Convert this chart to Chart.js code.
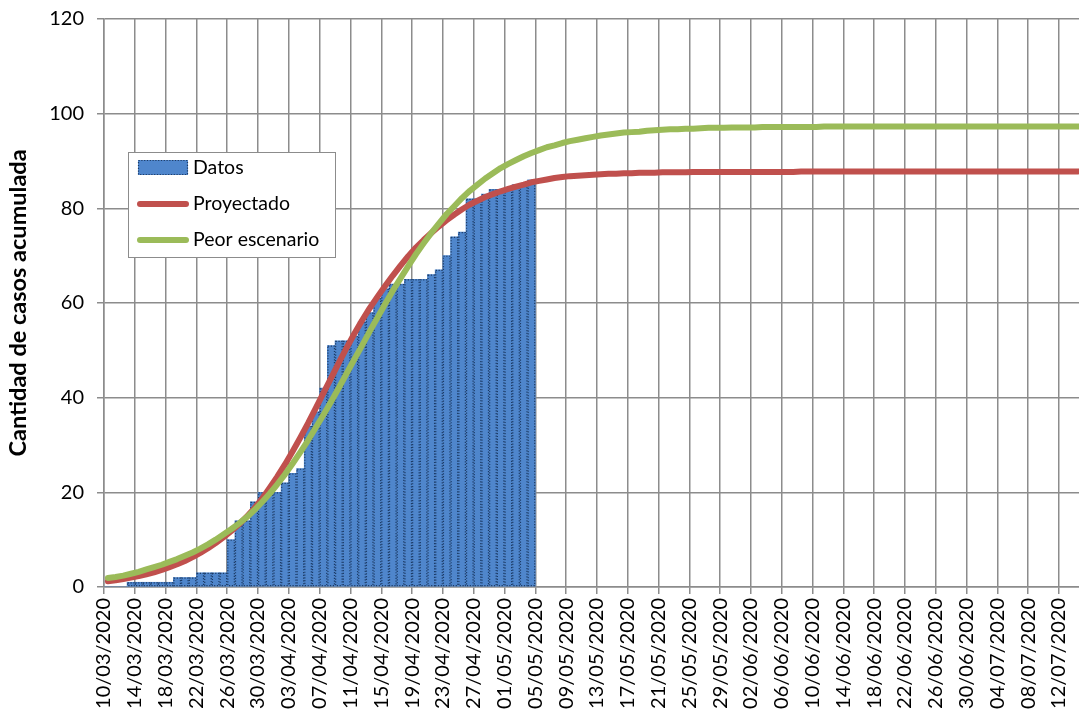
<!DOCTYPE html>
<html>
<head>
<meta charset="utf-8">
<title>Casos acumulados</title>
<script src="https://cdn.jsdelivr.net/npm/chart.js@4.4.1/dist/chart.umd.min.js"></script>
<style>
  html, body { margin: 0; padding: 0; background: #ffffff; overflow: hidden; }
  #wrap { width: 1079px; height: 711px; position: relative; }
  canvas { display: block; }
</style>
</head>
<body>
<div id="wrap"><canvas id="chart" width="1079" height="711"></canvas></div>
<script>
// Axis labels, one every 4 days starting on 10/03/2020
const tickLabels = [
  '10/03/2020', '14/03/2020', '18/03/2020', '22/03/2020', '26/03/2020', '30/03/2020',
  '03/04/2020', '07/04/2020', '11/04/2020', '15/04/2020', '19/04/2020', '23/04/2020',
  '27/04/2020', '01/05/2020', '05/05/2020', '09/05/2020', '13/05/2020', '17/05/2020',
  '21/05/2020', '25/05/2020', '29/05/2020', '02/06/2020', '06/06/2020', '10/06/2020',
  '14/06/2020', '18/06/2020', '22/06/2020', '26/06/2020', '30/06/2020', '04/07/2020',
  '08/07/2020', '12/07/2020'
];
const daysPerTick = 4;
const yTickValues = [0, 20, 40, 60, 80, 100, 120];

// Series labels
const seriesNames = ['Datos', 'Proyectado', 'Peor escenario'];

// Observed cumulative cases, one value per day from 10/03/2020 to 04/05/2020
const casos = [
  0, 0, 0, 1, 1, 1, 1, 1, 1, 2,
  2, 2, 3, 3, 3, 3, 10, 14, 14, 18,
  20, 20, 20, 22, 24, 25, 34, 37, 42, 51,
  52, 52, 53, 56, 58, 61, 63, 64, 64, 65,
  65, 65, 66, 67, 70, 74, 75, 82, 82, 83,
  84, 84, 84, 85, 85, 86
];

// Projected curve, one value per day from 10/03/2020
const proyectado = [
  1.2, 1.4, 1.7, 2.0, 2.3, 2.7, 3.1, 3.6, 4.2, 4.8,
  5.5, 6.3, 7.2, 8.2, 9.3, 10.5, 11.8, 13.2, 14.8, 16.6,
  18.6, 20.9, 23.3, 25.9, 28.7, 31.6, 34.6, 37.8, 41.0, 44.2,
  47.4, 50.5, 53.5, 56.3, 58.9, 61.3, 63.6, 65.8, 67.9, 69.9,
  71.7, 73.3, 74.8, 76.2, 77.5, 78.7, 79.8, 80.8, 81.6, 82.4,
  83.0, 83.6, 84.1, 84.6, 85.0, 85.5, 85.8, 86.1, 86.4, 86.6,
  86.8, 86.9, 87.0, 87.1, 87.2, 87.3, 87.3, 87.4, 87.4, 87.5,
  87.5, 87.5, 87.6, 87.6, 87.6, 87.6, 87.7, 87.7, 87.7, 87.7,
  87.7, 87.7, 87.7, 87.7, 87.7, 87.7, 87.7, 87.7, 87.7, 87.7,
  87.8, 87.8, 87.8, 87.8, 87.8, 87.8, 87.8, 87.8, 87.8, 87.8,
  87.8, 87.8, 87.8, 87.8, 87.8, 87.8, 87.8, 87.8, 87.8, 87.8,
  87.8, 87.8, 87.8, 87.8, 87.8, 87.8, 87.8, 87.8, 87.8, 87.8,
  87.8, 87.8, 87.8, 87.8, 87.8, 87.8, 87.8
];

// Worst-case curve, one value per day from 10/03/2020
const peorEscenario = [
  1.9, 2.1, 2.4, 2.8, 3.2, 3.7, 4.2, 4.7, 5.3, 5.9,
  6.6, 7.3, 8.1, 9.0, 10.0, 11.1, 12.2, 13.4, 14.7, 16.2,
  17.9, 19.7, 21.7, 23.8, 26.1, 28.5, 31.0, 33.7, 36.4, 39.2,
  42.1, 45.1, 48.1, 51.0, 54.0, 56.9, 59.8, 62.6, 65.2, 67.8,
  70.3, 72.6, 74.8, 76.8, 78.8, 80.5, 82.2, 83.7, 85.0, 86.3,
  87.4, 88.5, 89.4, 90.2, 91.0, 91.7, 92.3, 92.9, 93.3, 93.8,
  94.2, 94.5, 94.8, 95.1, 95.4, 95.6, 95.8, 96.0, 96.1, 96.2,
  96.4, 96.5, 96.6, 96.7, 96.7, 96.8, 96.8, 96.9, 97.0, 97.0,
  97.0, 97.1, 97.1, 97.1, 97.1, 97.2, 97.2, 97.2, 97.2, 97.2,
  97.2, 97.2, 97.2, 97.3, 97.3, 97.3, 97.3, 97.3, 97.3, 97.3,
  97.3, 97.3, 97.3, 97.3, 97.3, 97.3, 97.3, 97.3, 97.3, 97.3,
  97.3, 97.3, 97.3, 97.3, 97.3, 97.3, 97.3, 97.3, 97.3, 97.3,
  97.3, 97.3, 97.3, 97.3, 97.3, 97.3, 97.3
];

// Each day occupies one unit on the x scale; values sit in the middle of their day
const toDaily = (arr) => arr.map((v, i) => ({ x: i + 0.5, y: v }));

const FONT = 'Lato, "Open Sans", "Liberation Sans", sans-serif';
const GRID = '#8c8c8c';
const BAR_FILL = '#4f86cc';
const BAR_EDGE = '#1c3b66';
const RED = '#c0504d';
const GREEN = '#9bbb59';

// Dotted outline around each bar, drawn right after the bar dataset
const dottedBars = {
  id: 'dottedBars',
  afterDatasetDraw(chart, args) {
    if (args.meta.type !== 'bar') return;
    const { ctx, chartArea } = chart;
    ctx.save();
    ctx.beginPath();
    ctx.rect(chartArea.left, chartArea.top, chartArea.right - chartArea.left, chartArea.bottom - chartArea.top);
    ctx.clip();
    ctx.setLineDash([1.2, 1.6]);
    ctx.lineWidth = 1.2;
    ctx.strokeStyle = BAR_EDGE;
    args.meta.data.forEach((el) => {
      const p = el.getProps(['x', 'y', 'base', 'width'], true);
      const h = p.base - p.y;
      if (h < 0.5) return;
      ctx.strokeRect(p.x - p.width / 2 + 0.6, p.y + 0.6, p.width - 1.2, h - 1.2);
    });
    ctx.restore();
  }
};

// Boxed legend inside the plot area
const boxLegend = {
  id: 'boxLegend',
  afterDraw(chart, args, opts) {
    const { ctx } = chart;
    const { left, top, width, height, row, firstRow } = opts;
    ctx.save();
    ctx.fillStyle = '#ffffff';
    ctx.fillRect(left, top, width, height);
    ctx.strokeStyle = '#8c8c8c';
    ctx.lineWidth = 1;
    ctx.strokeRect(left + 0.5, top + 0.5, width, height);
    ctx.font = '19.5px ' + FONT;
    ctx.textBaseline = 'middle';
    chart.data.datasets.forEach((ds, i) => {
      const cy = top + firstRow + i * row;
      if (ds.type === 'bar') {
        ctx.fillStyle = ds.backgroundColor;
        ctx.fillRect(left + 10, cy - 8, 50, 15);
        ctx.setLineDash([1.2, 1.6]);
        ctx.strokeStyle = BAR_EDGE;
        ctx.lineWidth = 1.2;
        ctx.strokeRect(left + 10.5, cy - 7.5, 49, 14);
        ctx.setLineDash([]);
      } else {
        ctx.strokeStyle = ds.borderColor;
        ctx.lineWidth = ds.borderWidth;
        ctx.lineCap = 'round';
        ctx.beginPath();
        ctx.moveTo(left + 12, cy);
        ctx.lineTo(left + 58, cy);
        ctx.stroke();
      }
      ctx.fillStyle = '#000000';
      ctx.fillText(ds.label, left + 65, cy);
    });
    ctx.restore();
  }
};

new Chart(document.getElementById('chart'), {
  data: {
    datasets: [
      {
        type: 'bar',
        label: seriesNames[0],
        data: toDaily(casos),
        backgroundColor: BAR_FILL,
        borderWidth: 0,
        barPercentage: 1,
        categoryPercentage: 1,
        order: 3
      },
      {
        type: 'line',
        label: seriesNames[1],
        data: toDaily(proyectado),
        borderColor: RED,
        borderWidth: 6,
        pointRadius: 0,
        tension: 0,
        borderCapStyle: 'round',
        borderJoinStyle: 'round',
        order: 2
      },
      {
        type: 'line',
        label: seriesNames[2],
        data: toDaily(peorEscenario),
        borderColor: GREEN,
        borderWidth: 6,
        pointRadius: 0,
        tension: 0,
        borderCapStyle: 'round',
        borderJoinStyle: 'round',
        order: 1
      }
    ]
  },
  options: {
    responsive: false,
    devicePixelRatio: 1,
    animation: false,
    layout: { padding: { top: 19, right: 0, bottom: 0, left: 0 } },
    plugins: {
      legend: { display: false },
      tooltip: { enabled: false },
      boxLegend: { left: 128, top: 152, width: 207, height: 105, firstRow: 16, row: 36 }
    },
    scales: {
      x: {
        type: 'linear',
        offset: false,
        min: 0,
        max: 126.6,
        grid: { offset: false, color: GRID, lineWidth: 1.5, tickLength: 7, tickColor: GRID },
        border: { color: GRID, width: 1.5 },
        ticks: {
          autoSkip: false,
          minRotation: 90,
          maxRotation: 90,
          padding: 4,
          color: '#000000',
          font: { family: FONT, size: 20 },
          callback: (value, index) => tickLabels[index]
        },
        afterBuildTicks: (scale) => {
          scale.ticks = tickLabels.map((_, i) => ({ value: i * daysPerTick }));
        },
        afterFit: (scale) => {
          scale.height = 124;
          scale.paddingLeft = 0;
          scale.paddingRight = 0;
        }
      },
      y: {
        type: 'linear',
        min: yTickValues[0],
        max: yTickValues[yTickValues.length - 1],
        grid: { color: GRID, lineWidth: 1.5, tickLength: 7, tickColor: GRID },
        border: { color: GRID, width: 1.5 },
        ticks: {
          stepSize: yTickValues[1] - yTickValues[0],
          padding: 13,
          color: '#000000',
          font: { family: FONT, size: 20 }
        },
        afterBuildTicks: (scale) => {
          scale.ticks = yTickValues.map((v) => ({ value: v }));
        },
        title: {
          display: true,
          text: 'Cantidad de casos acumulada',
          color: '#000000',
          font: { family: FONT, size: 23.5, weight: 'bold' },
          padding: { top: 4, bottom: 0 }
        },
        afterFit: (scale) => {
          scale.width = 104;
          scale.paddingTop = 0;
          scale.paddingBottom = 0;
        }
      }
    }
  },
  plugins: [dottedBars, boxLegend]
});
</script>
</body>
</html>
